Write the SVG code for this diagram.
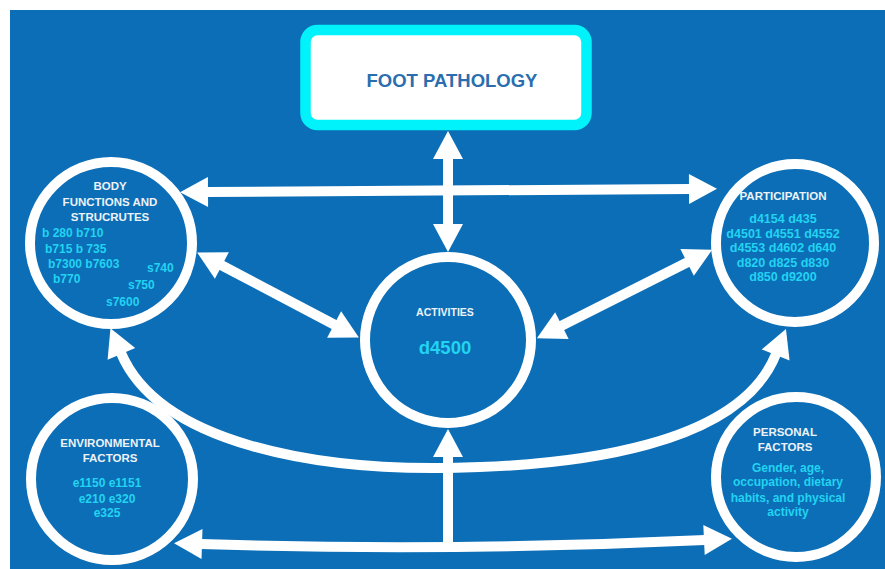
<svg xmlns="http://www.w3.org/2000/svg" width="885" height="569" viewBox="0 0 885 569">
<defs>
<style>
.bg{fill:#0B6EB6}
.node{fill:#0B6EB6;stroke:#FFFFFF;stroke-width:10}
.hd{font-family:"Liberation Sans",Arial,sans-serif;font-weight:bold;fill:#EEF2F6;text-anchor:middle;font-size:11.5px}
.cd{font-family:"Liberation Sans",Arial,sans-serif;font-weight:bold;fill:#22D3F2;font-size:12px}
.cm{text-anchor:middle}
.pt{font-size:12.5px}
.conn{fill:none;stroke:#FFFFFF;stroke-width:10}
.dbl{marker-start:url(#ah);marker-end:url(#ah)}
.sgl{marker-end:url(#ah)}
</style>
<marker id="ah" markerUnits="userSpaceOnUse" viewBox="0 -16 30 32" refX="1" refY="0" markerWidth="30" markerHeight="32" orient="auto-start-reverse" overflow="visible">
<path d="M0,-15 L28,0 L0,15 z" fill="#FFFFFF"/>
</marker>
</defs>
<rect class="bg" x="10" y="10" width="875" height="559"/>

<g id="connectors">
<path class="conn dbl" d="M448,158 L448,225"/>
<path class="conn dbl" d="M207,192 L690,189"/>
<path class="conn dbl" d="M221,265 L335,325"/>
<path class="conn dbl" d="M688,262 L561,326"/>
<path class="conn dbl" d="M121,353 C160,445 320,470 448,468 C580,466 740,445 776,354"/>
<path class="conn dbl" d="M201,544 Q448,552 705,540"/>
<path class="conn sgl" d="M448,548 L448,456"/>
</g>

<g id="foot-pathology">
<rect x="305.5" y="30" width="281" height="95" rx="12" fill="#FFFFFF" stroke="#00F2FA" stroke-width="10.5"/>
<text x="452" y="86.5" font-family="'Liberation Sans',Arial,sans-serif" font-weight="bold" font-size="18.5" fill="#2A6EAF" text-anchor="middle">FOOT PATHOLOGY</text>
</g>

<g id="body-functions">
<circle class="node" cx="111" cy="243" r="81"/>
<text class="hd" x="110" y="190">BODY</text>
<text class="hd" x="110" y="206">FUNCTIONS AND</text>
<text class="hd" x="110" y="221">STRUCRUTES</text>
<text class="cd" x="42" y="237">b 280 b710</text>
<text class="cd" x="45" y="253">b715 b 735</text>
<text class="cd" x="48" y="268">b7300 b7603</text>
<text class="cd" x="147" y="272">s740</text>
<text class="cd" x="53" y="283">b770</text>
<text class="cd" x="128" y="289">s750</text>
<text class="cd" x="106" y="306">s7600</text>
</g>

<g id="participation">
<circle class="node" cx="795" cy="243" r="79"/>
<text class="hd" x="783" y="200">PARTICIPATION</text>
<text class="cd cm pt" x="783" y="223">d4154 d435</text>
<text class="cd cm pt" x="783" y="238">d4501 d4551 d4552</text>
<text class="cd cm pt" x="783" y="252">d4553 d4602 d640</text>
<text class="cd cm pt" x="783" y="267">d820 d825 d830</text>
<text class="cd cm pt" x="783" y="281">d850 d9200</text>
</g>

<g id="activities">
<circle class="node" cx="448" cy="340" r="83"/>
<text class="hd" x="445" y="316" style="font-size:10.5px">ACTIVITIES</text>
<text class="cd cm" x="445" y="354" style="font-size:18.5px">d4500</text>
</g>

<g id="environmental-factors">
<circle class="node" cx="112" cy="479" r="81"/>
<text class="hd" x="110" y="447">ENVIRONMENTAL</text>
<text class="hd" x="110" y="462">FACTORS</text>
<text class="cd cm" x="107" y="487">e1150 e1151</text>
<text class="cd cm" x="107" y="503">e210 e320</text>
<text class="cd cm" x="107" y="517">e325</text>
</g>

<g id="personal-factors">
<circle class="node" cx="796" cy="477" r="80"/>
<text class="hd" x="785" y="436">PERSONAL</text>
<text class="hd" x="785" y="451">FACTORS</text>
<text class="cd cm" x="788" y="472">Gender, age,</text>
<text class="cd cm" x="788" y="486">occupation, dietary</text>
<text class="cd cm" x="788" y="502">habits, and physical</text>
<text class="cd cm" x="788" y="516">activity</text>
</g>
</svg>
